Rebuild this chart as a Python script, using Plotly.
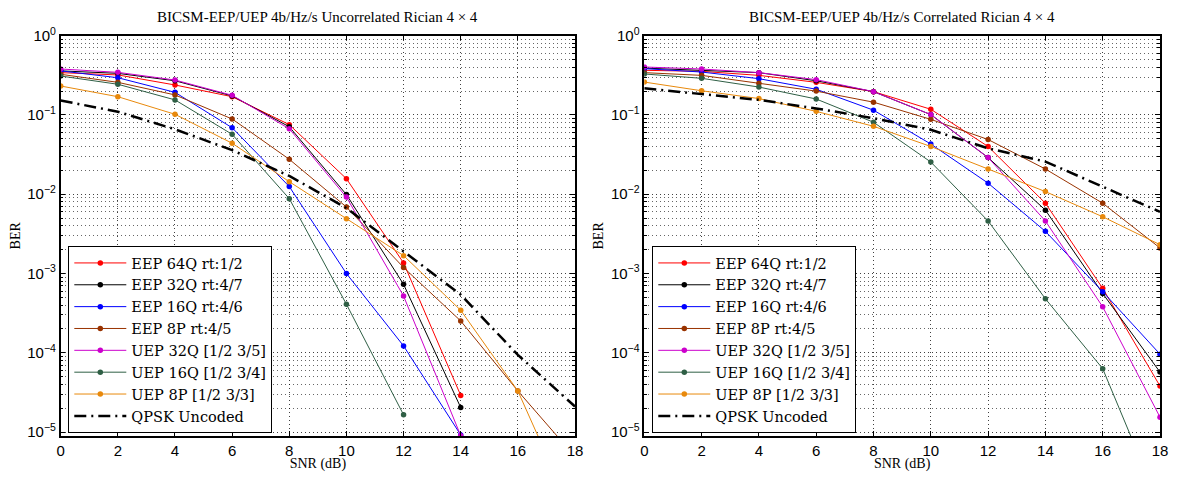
import plotly.graph_objects as go

snr = [0, 2, 4, 6, 8, 10, 12, 14, 16, 18]

names = ["EEP 64Q rt:1/2", "EEP 32Q rt:4/7", "EEP 16Q rt:4/6", "EEP 8P rt:4/5",
         "UEP 32Q [1/2 3/5]", "UEP 16Q [1/2 3/4]", "UEP 8P [1/2 3/3]", "QPSK Uncoded"]
colors = ["#ff0000", "#000000", "#0000ff", "#993300", "#cc00cc", "#2f5f45", "#e8890c", "#000000"]

# Uncorrelated Rician 4x4 (left)
unc_eep64q = [0.342, 0.32, 0.239, 0.170, 0.0755, 0.0157, 0.00136, 2.9e-5]
unc_eep32q = [0.36, 0.335, 0.27, 0.174, 0.071, 0.0099, 0.00073, 2.04e-5]
unc_eep16q = [0.36, 0.295, 0.193, 0.069, 0.0125, 0.001, 0.000122, 9.2e-6]
unc_eep8p = [0.326, 0.258, 0.179, 0.089, 0.0276, 0.0069, 0.00119, 0.000252, 3.3e-5, 4.9e-6]
unc_uep32q = [0.38, 0.345, 0.276, 0.177, 0.067, 0.0092, 0.00052, 9.0e-6]
unc_uep16q = [0.31, 0.244, 0.155, 0.057, 0.0088, 0.00041, 1.65e-5]
unc_uep8p = [0.232, 0.17, 0.102, 0.044, 0.0144, 0.0049, 0.00168, 0.000344, 3.3e-5, 8e-7]
unc_qpsk = [0.152, 0.110, 0.066, 0.036, 0.017, 0.0067, 0.0019, 0.00054, 9.4e-5, 2.1e-5]

# Correlated Rician 4x4 (right)
cor_eep64q = [0.366, 0.355, 0.316, 0.258, 0.197, 0.118, 0.040, 0.0077, 0.00065, 3.8e-5]
cor_eep32q = [0.39, 0.369, 0.342, 0.27, 0.197, 0.101, 0.029, 0.0063, 0.00056, 5.7e-5]
cor_eep16q = [0.384, 0.348, 0.287, 0.211, 0.115, 0.043, 0.0138, 0.0034, 0.00059, 9.6e-5]
cor_eep8p = [0.342, 0.316, 0.251, 0.2, 0.145, 0.088, 0.049, 0.0208, 0.0077, 0.0021]
cor_uep32q = [0.403, 0.38, 0.342, 0.279, 0.197, 0.101, 0.029, 0.0046, 0.00038, 1.54e-5]
cor_uep16q = [0.329, 0.29, 0.225, 0.159, 0.081, 0.0255, 0.0046, 0.00048, 6.3e-5, 1.16e-6]
cor_uep8p = [0.26, 0.202, 0.161, 0.111, 0.072, 0.04, 0.0208, 0.0108, 0.0052, 0.00231]
cor_qpsk = [0.217, 0.182, 0.155, 0.121, 0.091, 0.065, 0.038, 0.0258, 0.0125, 0.006]

titles = ["BICSM-EEP/UEP 4b/Hz/s Uncorrelated Rician 4 × 4",
          "BICSM-EEP/UEP 4b/Hz/s Correlated Rician 4 × 4"]
x_ticks = [0, 2, 4, 6, 8, 10, 12, 14, 16, 18]
y_ticks = [1e-5, 1e-4, 1e-3, 1e-2, 1e-1, 1e0]
y_ticktext = ["10<sup>−5</sup>", "10<sup>−4</sup>", "10<sup>−3</sup>",
              "10<sup>−2</sup>", "10<sup>−1</sup>", "10<sup>0</sup>"]
y_minor = [m * 10 ** e for e in range(-6, 0) for m in range(2, 10)]

panels = [
    [unc_eep64q, unc_eep32q, unc_eep16q, unc_eep8p, unc_uep32q, unc_uep16q, unc_uep8p, unc_qpsk],
    [cor_eep64q, cor_eep32q, cor_eep16q, cor_eep8p, cor_uep32q, cor_uep16q, cor_uep8p, cor_qpsk],
]

# figure is placed with the page's 8px body margin
W, H, OFF = 1161, 464, 8


def px(xp):
    return (xp - OFF) / W


def py(yp):
    return 1 - (yp - OFF) / H


fig = go.Figure()
serif = "Liberation Serif, Times New Roman, serif"
legfont = "DejaVu Serif, serif"
sans = "Liberation Sans, Arial, sans-serif"

for p, series in enumerate(panels):
    xa = "x" if p == 0 else "x2"
    ya = "y" if p == 0 else "y2"
    lg = "legend" if p == 0 else "legend2"
    for i, vals in enumerate(series):
        if i == 7:
            fig.add_trace(go.Scatter(
                x=snr[:len(vals)], y=vals, mode="lines", name=names[i],
                line=dict(color=colors[i], width=2.5, dash="12px,5px,2px,5px"),
                xaxis=xa, yaxis=ya, legend=lg))
        else:
            fig.add_trace(go.Scatter(
                x=snr[:len(vals)], y=vals, mode="lines+markers", name=names[i],
                line=dict(color=colors[i], width=1),
                marker=dict(color=colors[i], size=5.5),
                xaxis=xa, yaxis=ya, legend=lg))

doms = [[px(60.7), px(575)], [px(644.3), px(1160)]]
ydom = [py(436), py(35.7)]
grid_dash = "1px,3px"

for p in range(2):
    sfx = "" if p == 0 else "2"
    fig.update_layout(**{
        "xaxis" + sfx: dict(
            domain=doms[p], range=[0, 18], tickvals=x_ticks, automargin=False,
            showgrid=True, gridcolor="rgba(0,0,0,0.75)", griddash=grid_dash, gridwidth=1,
            showline=True, linecolor="black", linewidth=1.5, mirror="ticks",
            ticks="inside", ticklen=5, tickcolor="black", zeroline=False,
            tickfont=dict(family=sans, size=15, color="black"),
            title=dict(text="SNR (dB)", font=dict(family=serif, size=14, color="black"), standoff=8),
            anchor="y" + sfx,
        ),
        "yaxis" + sfx: dict(
            domain=ydom, type="log", range=[-5.05, 0], automargin=False,
            tickvals=y_ticks, ticktext=y_ticktext,
            showgrid=True, gridcolor="rgba(0,0,0,0.75)", griddash=grid_dash, gridwidth=1,
            minor=dict(tickvals=y_minor, showgrid=True, gridcolor="rgba(0,0,0,0.6)",
                       griddash=grid_dash, ticks="inside", ticklen=3, tickcolor="black"),
            showline=True, linecolor="black", linewidth=1.5, mirror="ticks",
            ticks="inside", ticklen=5, tickcolor="black", zeroline=False,
            tickfont=dict(family=sans, size=15, color="black"),
            title=dict(text="BER", font=dict(family=serif, size=14, color="black"), standoff=4),
            anchor="x" + sfx,
        ),
    })
    fig.add_annotation(
        text=titles[p], xref="paper", yref="paper",
        x=(doms[p][0] + doms[p][1]) / 2, y=py(17),
        xanchor="center", yanchor="middle", showarrow=False,
        font=dict(family=serif, size=15, color="black"))

leg_common = dict(
    xanchor="left", yanchor="top", bgcolor="white",
    bordercolor="black", borderwidth=1,
    font=dict(family=legfont, size=14.5, color="black"),
    tracegroupgap=0, itemwidth=52,
)
fig.update_layout(
    legend=dict(x=px(68.3), y=py(246), **leg_common),
    legend2=dict(x=px(652.3), y=py(246), **leg_common),
    width=W, height=H,
    margin=dict(l=0, r=0, t=0, b=0),
    paper_bgcolor="white", plot_bgcolor="white",
    showlegend=True,
)

fig.write_html("out.html")
